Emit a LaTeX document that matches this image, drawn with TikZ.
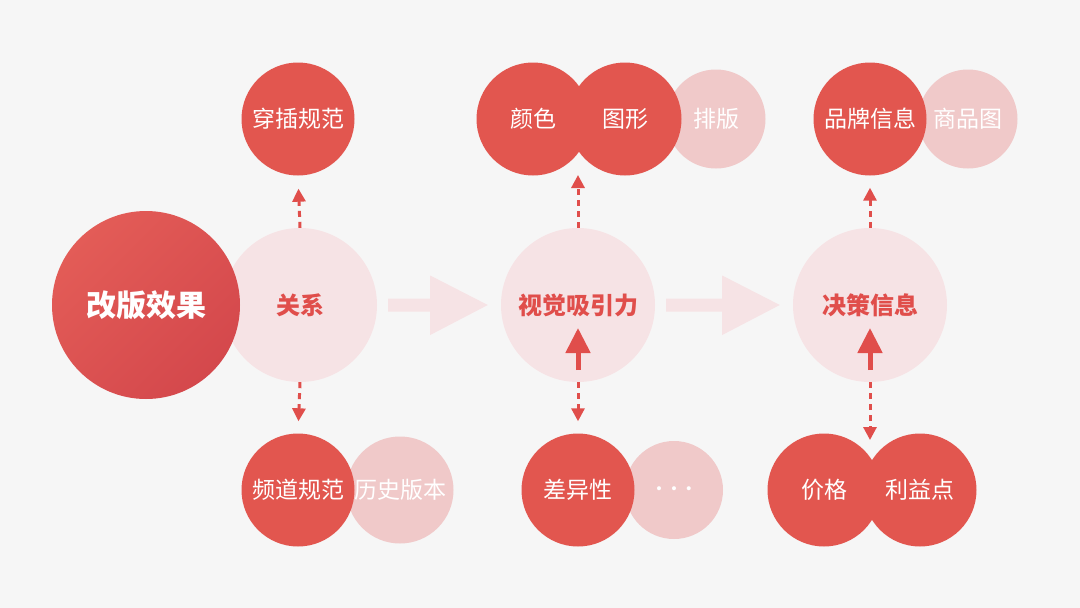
\documentclass[tikz,border=0pt]{standalone}
\usepackage{fontspec}
\newfontfamily\cjk{Noto Sans CJK SC}
\usetikzlibrary{arrows.meta,calc}
\definecolor{bg}{HTML}{F6F6F6}
\definecolor{hong}{HTML}{E2564F}
\definecolor{hongdark}{HTML}{D4484C}
\definecolor{honglight}{HTML}{E35C57}
\definecolor{pink}{HTML}{F0C9C9}
\definecolor{pale}{HTML}{F6E3E5}
\definecolor{redtext}{HTML}{E04E4B}
\begin{document}
\begin{tikzpicture}[x=1pt, y=-1pt, line join=round, >={Triangle[width=13pt,length=13pt]},
  ball/.style={circle, fill=hong, text=white, inner sep=0pt, minimum size=113pt, font=\cjk\fontsize{23}{23}\selectfont},
  lightball/.style={ball, fill=pink},
  hub/.style={circle, fill=pale, text=redtext, inner sep=0pt, minimum size=154pt, font=\cjk\bfseries\fontsize{24}{24}\selectfont},
  dasharrow/.style={->, redtext, line width=3pt, dash pattern=on 6pt off 5pt},
  solidarrow/.style={-{Triangle[width=24pt,length=25pt]}, redtext, line width=5pt}]
% Nền
\fill[bg] (0,0) rectangle (1080,608);
\useasboundingbox (0,0) rectangle (1080,608);

% Các vòng trung tâm
\node[hub] (relation) at (300,305) {关系};
\node[circle, inner sep=0pt, minimum size=188pt, top color=honglight, bottom color=hongdark, shading angle=45,
  text=white, font=\cjk\bfseries\fontsize{30}{30}\selectfont] (effect) at (146,305) {改版效果};
\node[hub] (visual) at (578,305) {视觉吸引力};
\node[hub] (decision) at (870,305) {决策信息};

% Mũi tên lớn
\fill[pale] ($(relation.east)+(11,-6.5)$) -- ++(42,0) -- ++(0,-23) -- ($(visual.west)+(-13,0)$)
  -- ($(relation.east)+(53,30)$) -- ++(0,-23.5) -- ++(-42,0) -- cycle;
\fill[pale] ($(visual.east)+(11,-6.5)$) -- ++(56,0) -- ++(0,-23) -- ($(decision.west)+(-13,0)$)
  -- ($(visual.east)+(67,30)$) -- ++(0,-23.5) -- ++(-56,0) -- cycle;

% Hàng trên
\node[ball] (norms) at (298,119) {穿插规范};
\node[lightball, minimum size=99pt] (layout) at (716,119) {排版};
\node[ball] (colour) at (533,119) {颜色};
\node[ball] (shape) at (625,119) {图形};
\node[lightball, minimum size=99pt] (goods) at (968,119) {商品图};
\node[ball] (brand) at (870,119) {品牌信息};

% Hàng dưới
\node[lightball, minimum size=107pt] (history) at (400,490) {历史版本};
\node[ball] (channel) at (298,490) {频道规范};
\node[lightball, minimum size=98pt, font=\fontsize{18}{18}\selectfont] (more) at (674,490)
  {\textbullet\hspace{2pt}\textbullet\hspace{2pt}\textbullet};
\node[ball] (diff) at (578,490) {差异性};
\node[ball] (price) at (824,490) {价格};
\node[ball] (benefit) at (920,490) {利益点};

\coordinate (visualtop) at (578,175);
\coordinate (decisionbottom) at (870,440);

% Mũi tên nét đứt
\draw[dasharrow, shorten >=13pt] (relation.north) -- (norms.south);
\draw[dasharrow, shorten >=12pt] (relation.south) -- (channel.north);
\draw[dasharrow] (visual.north) -- (visualtop);
\draw[dasharrow, shorten >=12pt] (decision.north) -- (brand.south);
\draw[dasharrow, shorten >=12pt] (visual.south) -- (diff.north);
\draw[dasharrow] (decision.south) -- (decisionbottom);

% Mũi tên đặc bên trong
\draw[solidarrow] ([yshift=12pt]visual.south) -- ([yshift=-23pt]visual.center);
\draw[solidarrow] ([yshift=12pt]decision.south) -- ([yshift=-23pt]decision.center);
\end{tikzpicture}
\end{document}
